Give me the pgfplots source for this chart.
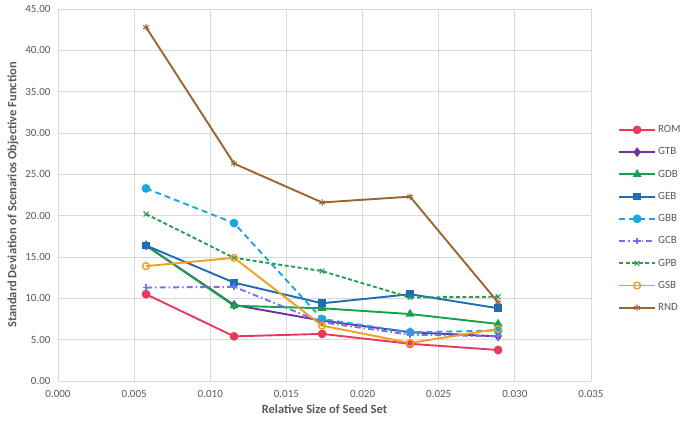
\documentclass[border=0pt]{standalone}
\usepackage{pgfplots}
\pgfplotsset{compat=1.18}
\usepackage{fontspec}
\setmainfont{Carlito}
\definecolor{cROM}{HTML}{E83A5C}
\definecolor{cGTB}{HTML}{7030A0}
\definecolor{cGDB}{HTML}{14A24C}
\definecolor{cGEB}{HTML}{1F6DB5}
\definecolor{cGBB}{HTML}{1AA7E0}
\definecolor{cGCB}{HTML}{7B6FEA}
\definecolor{cGPB}{HTML}{2A9E4E}
\definecolor{cGSB}{HTML}{EFA020}
\definecolor{cRND}{HTML}{9A6535}
\definecolor{tgray}{HTML}{595959}
\definecolor{ggray}{HTML}{D9D9D9}
\begin{document}
\begin{tikzpicture}[x=1pt,y=1pt]
\useasboundingbox (0,0) rectangle (685,424);
\begin{axis}[
  at={(58pt,43pt)}, anchor=south west,
  scale only axis, width=533pt, height=372pt,
  xmin=0, xmax=0.035, ymin=0, ymax=45,
  xtick={0,0.005,...,0.035}, ytick={0,5,...,45},
  grid=major, major grid style={ggray, line width=0.8pt},
  axis x line*=bottom, axis y line*=left,
  x axis line style={ggray, line width=0.8pt, -},
  y axis line style={draw=none},
  tick style={draw=none},
  xticklabel style={/pgf/number format/.cd, fixed, fixed zerofill, precision=3, /tikz/.cd, font=\fontsize{11}{13}\selectfont, text=tgray, yshift=-6pt},
  yticklabel style={/pgf/number format/.cd, fixed, fixed zerofill, precision=2, /tikz/.cd, font=\fontsize{11}{13}\selectfont, text=tgray, xshift=-4pt},
  /pgf/number format/assume math mode=true,
  scaled x ticks=false, scaled y ticks=false,
  xlabel={\textbf{Relative Size of Seed Set}},
  ylabel={\textbf{Standard Deviation of Scenarios Objective Function}},
  xlabel style={font=\fontsize{12.5}{14}\selectfont, text=tgray, yshift=0pt},
  ylabel style={font=\fontsize{12.5}{14}\selectfont, text=tgray, yshift=0pt},
  legend style={at={(1.045,0.698)}, anchor=north west, draw=none, fill=none,
    font=\fontsize{11}{13}\selectfont, text=tgray, row sep=9.6pt},
  legend cell align=left,
  legend image code/.code={\draw[mark repeat=2, mark phase=2, #1] plot coordinates {(0pt,0pt) (18pt,0pt) (36pt,0pt)};},
  every axis plot/.append style={line width=1.9pt, mark size=3.4pt},
]
\addplot[cROM, mark=*] coordinates {(0.00578,10.5) (0.01156,5.4) (0.01734,5.7) (0.02312,4.5) (0.0289,3.75)};
\addlegendentry{ROM}
\addplot[cGTB, mark=diamond*] coordinates {(0.00578,16.4) (0.01156,9.2) (0.01734,7.3) (0.02312,5.9) (0.0289,5.4)};
\addlegendentry{GTB}
\addplot[cGDB, mark=triangle*] coordinates {(0.00578,16.4) (0.01156,9.1) (0.01734,8.8) (0.02312,8.1) (0.0289,6.9)};
\addlegendentry{GDB}
\addplot[cGEB, mark=square*, mark size=2.9pt] coordinates {(0.00578,16.4) (0.01156,11.9) (0.01734,9.4) (0.02312,10.5) (0.0289,8.8)};
\addlegendentry{GEB}
\addplot[cGBB, mark=*, dash pattern=on 6pt off 4pt, mark options={solid}] coordinates {(0.00578,23.3) (0.01156,19.1) (0.01734,7.5) (0.02312,5.9) (0.0289,6.1)};
\addlegendentry{GBB}
\addplot[cGCB, mark=+, dash pattern=on 6pt off 3pt on 1.5pt off 3pt, mark options={solid, line width=1.8pt}] coordinates {(0.00578,11.3) (0.01156,11.4) (0.01734,7.1) (0.02312,5.6) (0.0289,5.4)};
\addlegendentry{GCB}
\addplot[cGPB, mark=x, dash pattern=on 4pt off 2.5pt, mark options={solid, line width=1.1pt}] coordinates {(0.00578,20.2) (0.01156,14.9) (0.01734,13.3) (0.02312,10.1) (0.0289,10.2)};
\addlegendentry{GPB}
\addplot[cGSB, mark=o, mark options={solid, line width=1.4pt, fill=white}] coordinates {(0.00578,13.9) (0.01156,14.9) (0.01734,6.7) (0.02312,4.6) (0.0289,6.3)};
\addlegendentry{GSB}
\addplot[cRND, mark=asterisk, mark options={line width=1pt}] coordinates {(0.00578,42.8) (0.01156,26.3) (0.01734,21.6) (0.02312,22.3) (0.0289,9.5)};
\addlegendentry{RND}
\end{axis}
\end{tikzpicture}
\end{document}
